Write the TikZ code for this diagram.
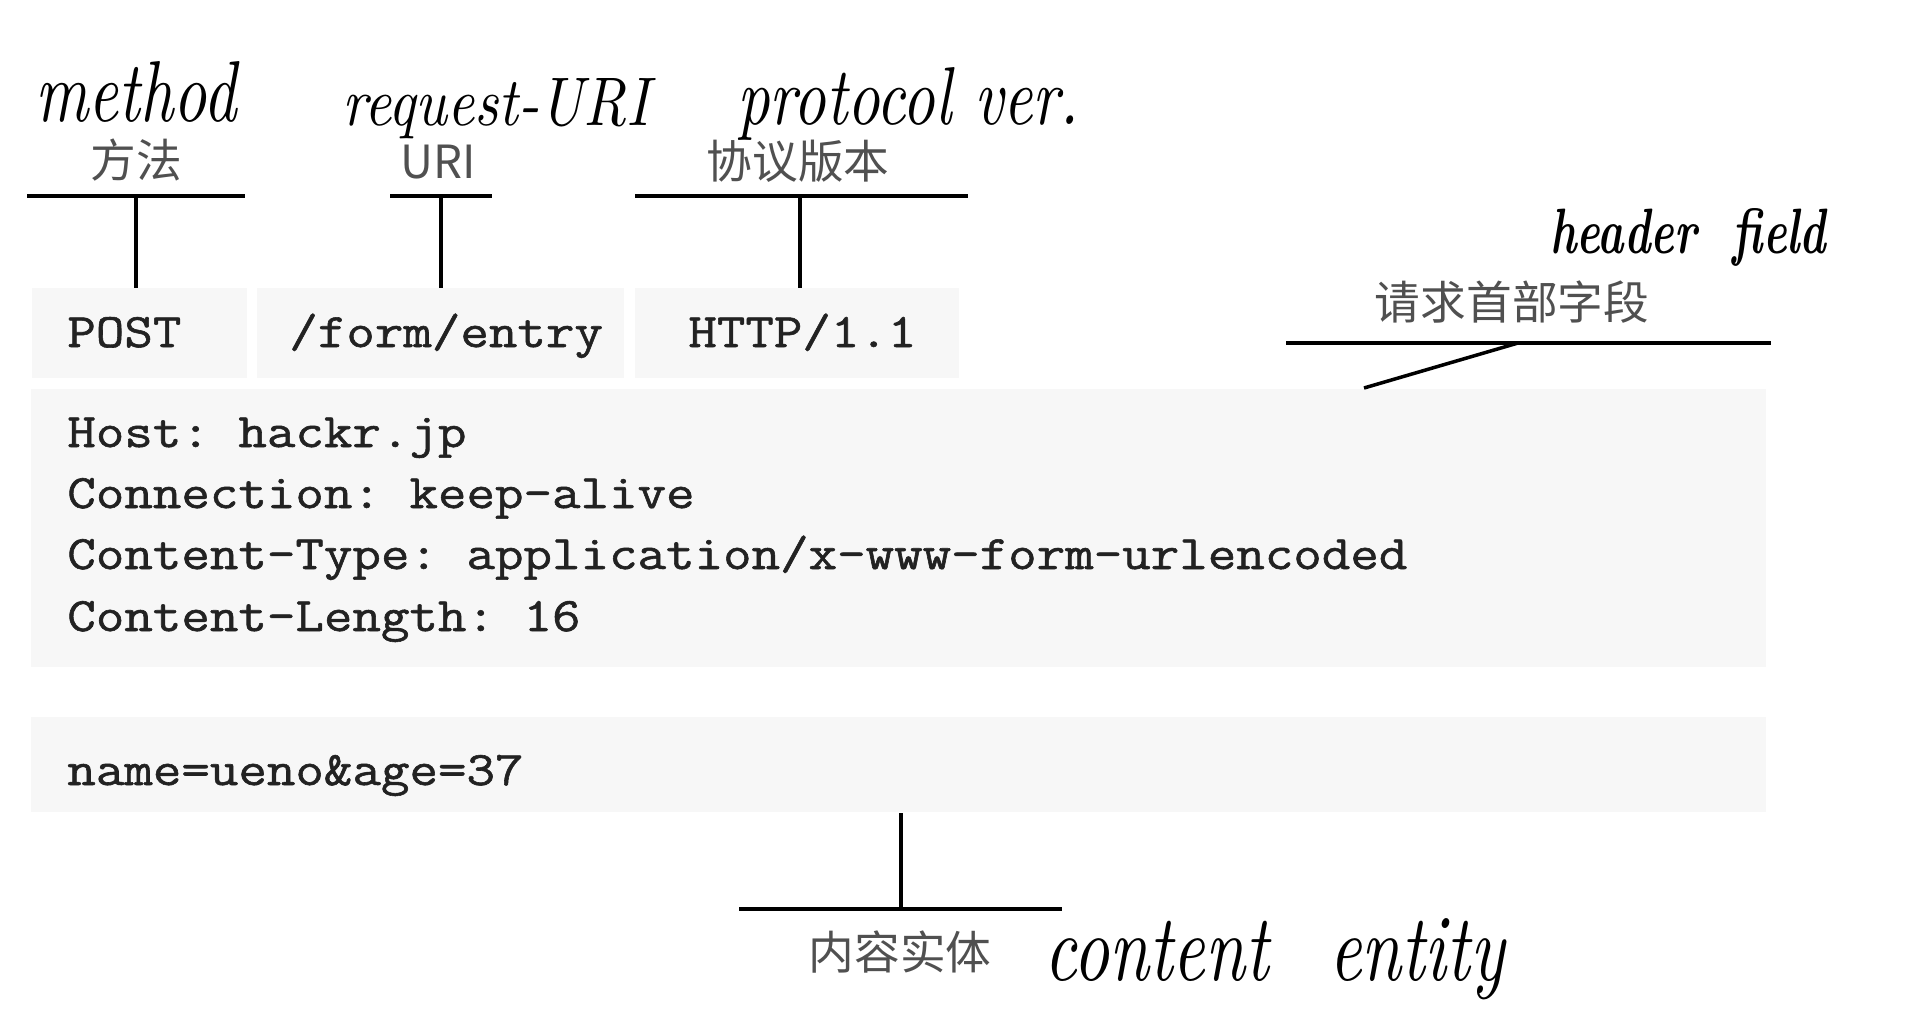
\documentclass[tikz,border=0pt]{standalone}
\usepackage{fontspec}
\usepackage{graphicx}
\setmonofont[FakeStretch=1.15,FakeBold=1.2]{Latin Modern Mono}
\newfontfamily\cjk{Noto Sans CJK SC}
\definecolor{boxgray}{HTML}{F7F7F7}
\definecolor{labelgray}{HTML}{505050}
\definecolor{codeink}{HTML}{222222}
\begin{document}
\begin{tikzpicture}[x=0.02cm,y=-0.02cm,
  bar/.style={line width=2.8pt},
  stem/.style={line width=2pt},
  mono/.style={font=\ttfamily\fontsize{27.4}{30}\selectfont, text=codeink, inner sep=0pt, anchor=base west},
  cjklabel/.style={font=\cjk\fontsize{26}{30}\selectfont, text=labelgray, inner sep=0pt},
  hand/.style={inner sep=0pt, anchor=base west, font=\itshape},
  shade/.style={fill=boxgray, draw=none}]

\useasboundingbox[fill=white] (0,0) rectangle (1922,1015);

% shaded areas
\fill[shade] (32,288) rectangle (247,378);
\fill[shade] (257,288) rectangle (624,378);
\fill[shade] (635,288) rectangle (959,378);
\fill[shade] (31,389) rectangle (1766,667);
\fill[shade] (31,717) rectangle (1766,812);

% request line
\node[mono] (post) at (67,347) {POST};
\node[mono] (path) at (289,347) {/form/entry};
\node[mono] (ver) at (688,347) {HTTP/1.1};

% header fields
\node[mono] (h1) at (67,447) {Host: hackr.jp};
\node[mono] (h2) at (67,508) {Connection: keep-alive};
\node[mono] (h3) at (67,569) {Content-Type: application/x-www-form-urlencoded};
\node[mono] (h4) at (67,631) {Content-Length: 16};

% body
\node[mono] (body) at (67,785) {name=ueno\&age=37};

% method bracket
\coordinate (mL) at (27,196); \coordinate (mR) at (245,196);
\coordinate (mT) at (136,196); \coordinate (mB) at (136,288);
\draw[bar] (mL) -- (mR);
\draw[stem] (mT) -- (mB);
\node[cjklabel] (lm) at (136,160) {方法};

% URI bracket
\coordinate (uL) at (390,196); \coordinate (uR) at (492,196);
\coordinate (uT) at (441,196); \coordinate (uB) at (441,288);
\draw[bar] (uL) -- (uR);
\draw[stem] (uT) -- (uB);
\node[cjklabel] (lu) at (438,162) {URI};

% version bracket
\coordinate (vL) at (635,196); \coordinate (vR) at (968,196);
\coordinate (vT) at (800,196); \coordinate (vB) at (800,288);
\draw[bar] (vL) -- (vR);
\draw[stem] (vT) -- (vB);
\node[cjklabel] (lv) at (798,161) {协议版本};

% header field bracket
\coordinate (hL) at (1286,343); \coordinate (hR) at (1771,343);
\coordinate (hJ) at (1518,343); \coordinate (hE) at (1364,388);
\draw[bar] (hL) -- (hR);
\draw[stem] (hJ) -- (hE);
\node[cjklabel] (lh) at (1512,302) {请求首部字段};

% content entity bracket
\coordinate (cT) at (901,813); \coordinate (cB) at (901,909);
\coordinate (cL) at (739,909); \coordinate (cR) at (1062,909);
\draw[stem] (cT) -- (cB);
\draw[bar] (cL) -- (cR);
\node[cjklabel] (lc) at (900,952) {内容实体};

% handwritten notes
\node[hand] (nm) at (35,121) {\resizebox{4.02cm}{1.2cm}{method}};
\node[hand] (nr) at (342,125) {\resizebox{6.14cm}{0.94cm}{request-URI}};
\node[hand] (np) at (737,124) {\resizebox{6.84cm}{1.14cm}{protocol ver.}};
\node[hand, font=\bfseries\itshape] (nh) at (1550,253) {\resizebox{5.52cm}{0.9cm}{header\hspace{0.4em} field}};
\node[hand] (nc) at (1044,980) {\resizebox{9.2cm}{1.24cm}{content\hspace{0.5em} entity}};
\end{tikzpicture}
\end{document}
